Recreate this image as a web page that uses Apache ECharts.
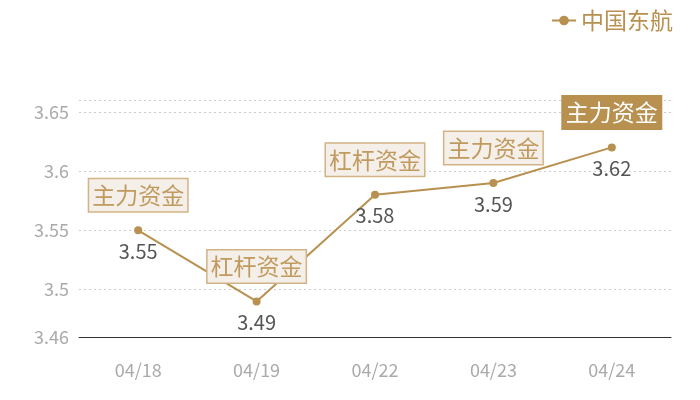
<!DOCTYPE html>
<html style="height: 100%">
<head>
<meta charset="utf-8">
<script src="https://cdn.jsdelivr.net/npm/echarts@6/dist/echarts.min.js"></script>
</head>
<body style="height: 100%; margin: 0">
<div id="container" style="width: 700px; height: 400px"></div>
<script type="text/javascript">
//------数据区------
var seriesName = "中国东航";
var dates = ["04/18", "04/19", "04/22", "04/23", "04/24"];
var prices = [3.55, 3.49, 3.58, 3.59, 3.62];
var tags = ["主力资金", "杠杆资金", "杠杆资金", "主力资金", "主力资金"];
var tagHighlight = [false, false, false, false, true];
var yTicks = [3.46, 3.5, 3.55, 3.6, 3.65, 3.66];
var yLabels = [3.46, 3.5, 3.55, 3.6, 3.65];
//------数据区（结束）------

var gold = "#b8904f";
var myChart = echarts.init(document.getElementById("container"));

var tagPoints = [];
for (var i = 0; i < dates.length; i++) {
	var hi = tagHighlight[i];
	tagPoints.push({
		coord: [dates[i], prices[i]],
		value: tags[i],
		label: {
			backgroundColor: hi ? gold : "#f4efe8",
			color: hi ? "#ffffff" : "#c09a5e",
			borderColor: hi ? gold : "#d2b385"
		}
	});
}

var option = {
	animation: false,
	textStyle: { fontFamily: "Noto Sans CJK SC" },
	legend: {
		right: 22,
		top: 4,
		itemWidth: 24,
		itemHeight: 12,
		itemGap: 6,
		textStyle: { color: gold, fontSize: 23, fontFamily: "Noto Sans CJK SC" },
		data: [seriesName]
	},
	grid: { left: 79, right: 29, top: 100, bottom: 63 },
	xAxis: {
		type: "category",
		data: dates,
		axisLine: { lineStyle: { color: "#333333", width: 1 } },
		axisTick: { show: false },
		axisLabel: { color: "#aaaaaa", fontSize: 18, margin: 24 }
	},
	yAxis: {
		type: "value",
		min: 3.46,
		max: 3.66,
		axisLine: { show: false },
		axisTick: { show: false, customValues: yTicks },
		axisLabel: { color: "#aaaaaa", fontSize: 18, margin: 10, customValues: yLabels },
		splitLine: { lineStyle: { color: "#cccccc", type: [2, 3] } }
	},
	series: [{
		name: seriesName,
		type: "line",
		data: prices,
		symbol: "circle",
		symbolSize: 8,
		itemStyle: { color: gold },
		lineStyle: { color: gold, width: 2 },
		label: {
			show: true,
			position: "bottom",
			distance: 7,
			color: "#555555",
			fontSize: 20
		},
		markPoint: {
			symbol: "rect",
			symbolSize: 1,
			itemStyle: { color: "rgba(0,0,0,0)" },
			label: {
				show: true,
				position: "inside",
				offset: [0, -35],
				formatter: "{c}",
				fontSize: 23,
				borderWidth: 1.5,
				padding: [3, 3, 1, 3],
				lineHeight: 28
			},
			data: tagPoints
		}
	}]
};

myChart.setOption(option, true);
</script>
</body>
</html>
